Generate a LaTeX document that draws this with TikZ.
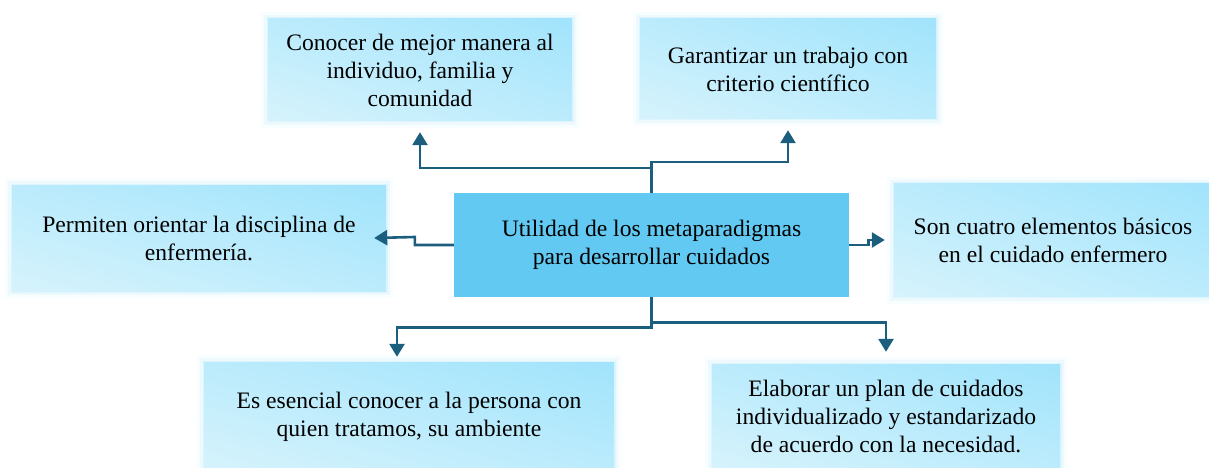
\documentclass[tikz,border=0pt]{standalone}
\usepackage{fontspec}
\setmainfont{Liberation Serif}
\usetikzlibrary{arrows.meta}
\definecolor{centerfill}{HTML}{62CAF2}
\definecolor{connc}{HTML}{1B5E7E}
\definecolor{halo}{HTML}{BDEAFC}
\pgfdeclarefunctionalshading{diagbox}{\pgfpoint{-50bp}{-50bp}}{\pgfpoint{50bp}{50bp}}{}{
  add 100 div 0.5 add
  dup 0 lt {pop 0} if
  dup 1 gt {pop 1} if
  dup -0.210 mul 0.840 add
  exch dup -0.060 mul 0.953 add
  exch pop 0.99
}
\tikzset{
  softbox/.style={rectangle, inner sep=0pt, align=center, font=\fontsize{23.6}{28}\selectfont,
    preaction={draw=halo, line width=14pt, draw opacity=0.10},
    preaction={draw=halo, line width=8pt, draw opacity=0.18},
    preaction={draw=halo, line width=3pt, draw opacity=0.3},
    shade, shading=diagbox},
  centerbox/.style={rectangle, inner sep=0pt, align=center, font=\fontsize{23.6}{28}\selectfont,
    fill=centerfill},
  conn/.style={draw=connc, line width=2.6pt, -{Triangle[length=13pt,width=15pt]}}
}
\begin{document}
\begin{tikzpicture}[x=1pt,y=-1pt]
\useasboundingbox (0,0) rectangle (1209,468);
\node[softbox, minimum width=304pt, minimum height=102pt] (tl) at (420,70)
  {Conocer de mejor manera al\\individuo, familia y\\comunidad};
\node[softbox, minimum width=296pt, minimum height=100pt] (tr) at (788,69)
  {Garantizar un trabajo con\\criterio científico};
\node[softbox, minimum width=374pt, minimum height=106pt] (l) at (199,238)
  {Permiten orientar la disciplina de\\enfermería.};
\node[softbox, minimum width=318pt, minimum height=113pt] (r) at (1053,240)
  {Son cuatro elementos básicos\\en el cuidado enfermero};
\node[softbox, minimum width=410pt, minimum height=110pt] (bl) at (409,417)
  {Es esencial conocer a la persona con\\quien tratamos, su ambiente};
\node[softbox, minimum width=348pt, minimum height=104pt] (br) at (886,416)
  {Elaborar un plan de cuidados\\individualizado y estandarizado\\de acuerdo con la necesidad.};
\node[centerbox, minimum width=395pt, minimum height=104pt] (c) at (651.5,245)
  {Utilidad de los metaparadigmas\\para desarrollar cuidados};

\draw[conn, shorten >=11pt] (c.north) -- ++(0,-25) -| (tl.south);
\draw[conn, shorten >=11pt] (c.north) -- ++(0,-31) -| (tr.south);
\draw[conn] (c.west) -- ++(-39,0) -- ++(0,-8) -- ([xshift=-12pt]l.east);
\draw[conn] (c.east) -- ++(19,0) -- ++(0,-5) -- ([xshift=-9pt]r.west);
\draw[conn, shorten >=5pt] (c.south) -- ++(0,30) -| ([xshift=-12pt]bl.north);
\draw[conn, shorten >=12pt] (c.south) -- ++(0,25) -| (br.north);
\end{tikzpicture}
\end{document}
